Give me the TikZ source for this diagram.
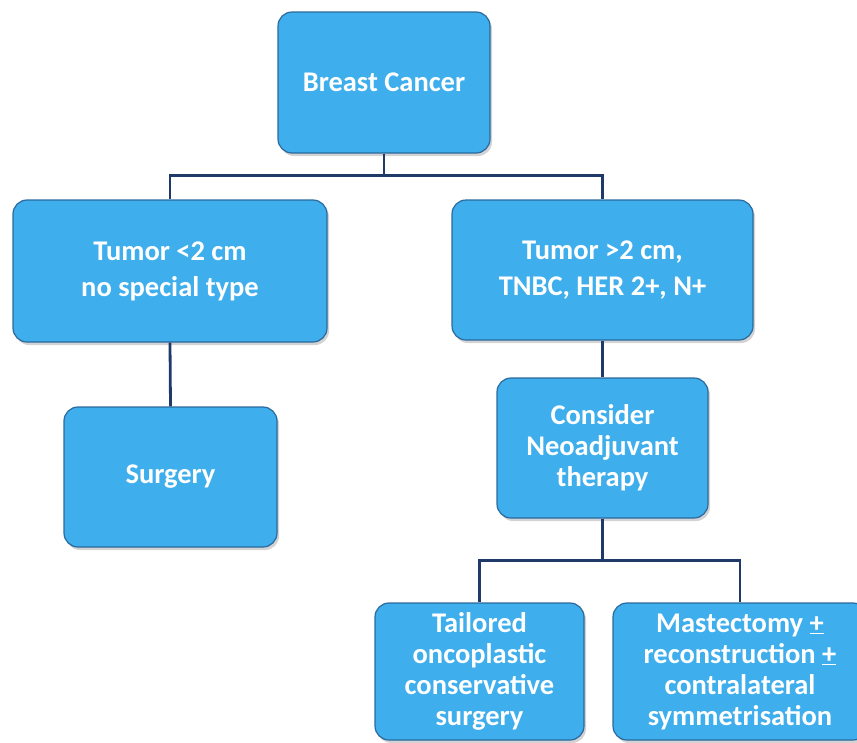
\documentclass[tikz,border=0pt]{standalone}
\usepackage{fontspec}
\setmainfont{Carlito}
\usepackage{tikz}
\usetikzlibrary{positioning,shadows}
\definecolor{boxblue}{HTML}{3FAEEC}
\definecolor{boxedge}{HTML}{2B6A9E}
\definecolor{linknavy}{HTML}{1F3A68}

\begin{document}
\begin{tikzpicture}[
  x=1pt, y=-1pt,
  block/.style={
    rectangle, rounded corners=14pt,
    draw=boxedge, line width=1.2pt, fill=boxblue,
    drop shadow={opacity=0.35, shadow xshift=2pt, shadow yshift=-3pt},
    text=white, align=center, inner sep=2pt,
    font=\bfseries\fontsize{28.5}{31}\selectfont
  },
  link/.style={line width=2.8pt, draw=linknavy}
]
\useasboundingbox (0,0) rectangle (857,742);
% Top
\node[block, minimum width=212pt, minimum height=141pt] (breast) at (384,82.5) {Breast Cancer};
% Second row
\node[block, minimum width=314pt, minimum height=142pt,
      font=\bfseries\fontsize{28.5}{36}\selectfont] (small) at (170,271) {Tumor <2 cm\\no special type};
\node[block, minimum width=301pt, minimum height=140pt,
      font=\bfseries\fontsize{28.5}{36}\selectfont] (large) at (602.5,270) {Tumor >2 cm,\\TNBC, HER 2+, N+};
% Third row
\node[block, minimum width=213pt, minimum height=140pt] (surgery) at (170.5,477) {Surgery};
\node[block, minimum width=211pt, minimum height=140pt] (neoadj) at (602.5,448) {Consider\\Neoadjuvant\\therapy};
% Bottom row
\node[block, minimum width=209pt, minimum height=137pt] (tailored) at (479.5,671.5) {Tailored\\oncoplastic\\conservative\\surgery};
\node[block, minimum width=254pt, minimum height=137pt] (mastect) at (740,671.5) {Mastectomy \underline{+}\\reconstruction \underline{+}\\contralateral\\symmetrisation};
% Connectors
\draw[link] (breast.south) -- ++(0,22) -| (small.north);
\draw[link] (breast.south) -- ++(0,22) -| (large.north);
\draw[link] (small.south) -- (surgery.north);
\draw[link] (large.south) -- (neoadj.north);
\draw[link] (neoadj.south) -- ++(0,42) -| (tailored.north);
\draw[link] (neoadj.south) -- ++(0,42) -| (mastect.north);
\end{tikzpicture}
\end{document}
